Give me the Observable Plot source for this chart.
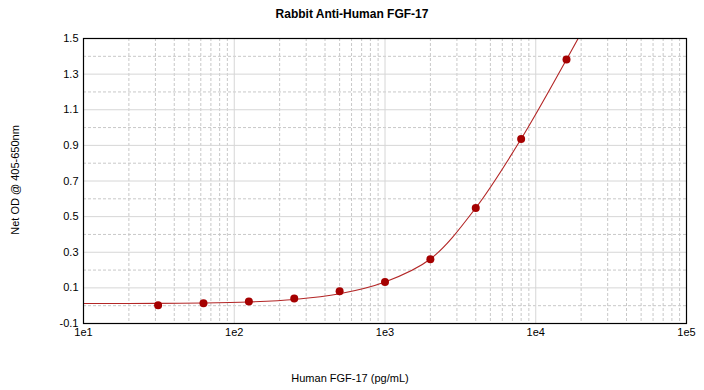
<!DOCTYPE html>
<html>
<head>
<meta charset="utf-8">
<script src="https://cdn.jsdelivr.net/npm/d3@7"></script>
<script src="https://cdn.jsdelivr.net/npm/@observablehq/plot@0.6"></script>
<style>
  html, body { margin: 0; padding: 0; background: #fff; }
  #chart svg { display: block; }
</style>
</head>
<body>
<div id="chart"></div>
<script>
const titleText = "Rabbit Anti-Human FGF-17";
const xLabel = "Human FGF-17 (pg/mL)";
const yLabel = "Net OD @ 405-650nm";

// standards
const conc = [31.25, 62.5, 125, 250, 500, 1000, 2000, 4000, 8000, 16000];
const od   = [0.003, 0.013, 0.024, 0.040, 0.081, 0.133, 0.261, 0.549, 0.936, 1.382];

// fitted curve (clipped to the frame)
const curveConc = [7.8125, 15.625, 31.25, 62.5, 125, 250, 500, 1000, 2000, 4000, 8000, 16000, 32000];
const curveOD   = [0.012, 0.0125, 0.013, 0.015, 0.021, 0.035, 0.067, 0.133, 0.262, 0.549, 0.936, 1.382, 1.85];

// ticks & grid
const xTicks = [10, 100, 1000, 10000, 100000];
const xTickLabels = ["1e1", "1e2", "1e3", "1e4", "1e5"];
const xMinor = [20,30,40,50,60,70,80,90,200,300,400,500,600,700,800,900,2000,3000,4000,5000,6000,7000,8000,9000,20000,30000,40000,50000,60000,70000,80000,90000];
const yTicks = [-0.1, 0.1, 0.3, 0.5, 0.7, 0.9, 1.1, 1.3, 1.5];
const yMinor = [0, 0.2, 0.4, 0.6, 0.8, 1.0, 1.2, 1.4];

const points = conc.map((c, i) => ({c, v: od[i]}));
const curve = curveConc.map((c, i) => ({c, v: curveOD[i]}));

const chart = Plot.plot({
  width: 704,
  height: 390,
  marginLeft: 83,
  marginRight: 18,
  marginTop: 38,
  marginBottom: 67,
  style: {fontFamily: "Liberation Sans, Arial, sans-serif", fontSize: "11px", color: "#000", background: "#fff"},
  x: {type: "log", domain: [10, 100000], ticks: xTicks, tickFormat: (d) => xTickLabels[xTicks.indexOf(d)], tickSize: 0, tickPadding: 5, label: null},
  y: {domain: [-0.1, 1.5], ticks: yTicks, tickFormat: (d) => d3.format(".1f")(d).replace("−", "-"), tickSize: 0, tickPadding: 5, label: null},
  marks: [
    Plot.ruleX(xMinor, {stroke: "#c8c8c8", strokeDasharray: "3,2", strokeWidth: 1}),
    Plot.ruleY(yMinor, {stroke: "#c8c8c8", strokeDasharray: "3,2", strokeWidth: 1}),
    Plot.ruleX(xTicks, {stroke: "#d6d6d6", strokeWidth: 1}),
    Plot.ruleY(yTicks, {stroke: "#d6d6d6", strokeWidth: 1}),
    Plot.line(curve, {x: "c", y: "v", stroke: "#b32626", strokeWidth: 1.1, curve: "catmull-rom", clip: true}),
    Plot.dot(points, {x: "c", y: "v", r: 4, fill: "#a50000", stroke: "none"}),
    Plot.frame({stroke: "#000", strokeWidth: 1.2})
  ]
});

const svg = d3.select(chart);
svg.append("text").attr("x", 352).attr("y", 18).attr("text-anchor", "middle")
  .attr("font-weight", "bold").attr("font-size", "12px").attr("fill", "#000").text(titleText);
svg.append("text").attr("x", 350).attr("y", 382).attr("text-anchor", "middle")
  .attr("font-size", "11px").attr("fill", "#000").text(xLabel);
svg.append("text").attr("transform", "translate(19,180) rotate(-90)").attr("text-anchor", "middle")
  .attr("font-size", "11px").attr("fill", "#000").text(yLabel);

document.getElementById("chart").appendChild(chart);
</script>
</body>
</html>
